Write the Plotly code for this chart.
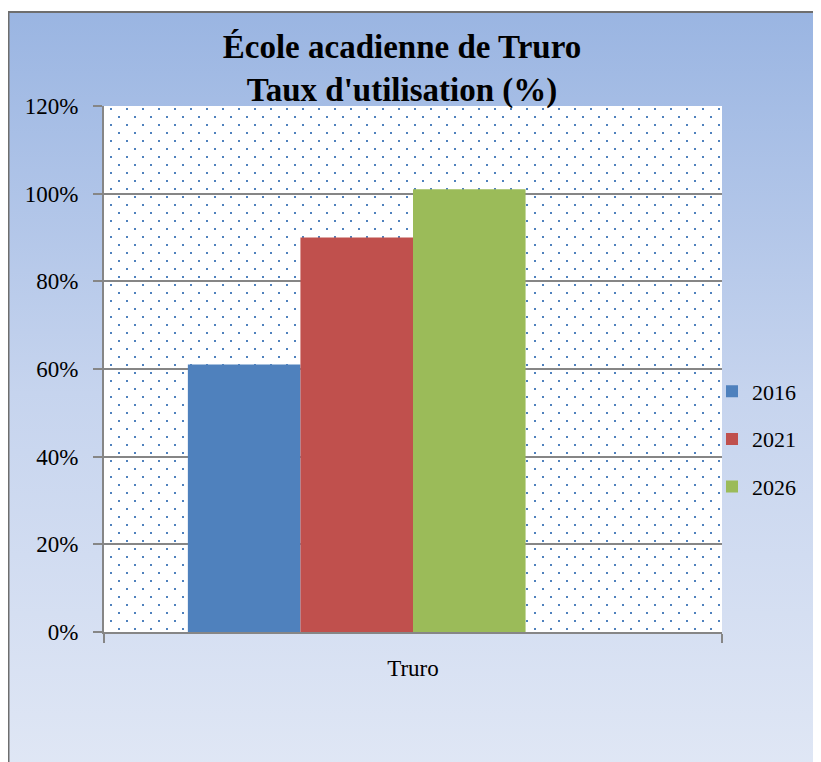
import base64
import plotly.graph_objects as go

# ---- data ----
categories = ["Truro"]
series_names = ["2016", "2021", "2026"]
values_2016 = [0.61]
values_2021 = [0.90]
values_2026 = [1.01]
series_values = [values_2016, values_2021, values_2026]
series_colors = ["#4F81BD", "#C0504D", "#9BBB59"]
y_tick_vals = [0, 0.2, 0.4, 0.6, 0.8, 1.0, 1.2]
y_tick_text = ["0%", "20%", "40%", "60%", "80%", "100%", "120%"]

# ---- layout geometry (pixels, page coords minus body offset) ----
OFF = 8  # page body margin
W, H = 821, 762
L, R, T, B = 104 - OFF, 722 - OFF, 106 - OFF, 632 - OFF
PW, PH = R - L, B - T
FONT = "Liberation Serif"
GRID = "#868686"
FX, FY = 7 - OFF, 12 - OFF  # frame corner


def px_x(px):
    return (px - L) / PW


def px_y(py):
    return (B - py) / PH


def svg_uri(svg):
    return "data:image/svg+xml;base64," + base64.b64encode(svg.encode()).decode()


bg_svg = f"""<svg xmlns='http://www.w3.org/2000/svg' width='{W}' height='{H}' viewBox='0 0 {W} {H}' preserveAspectRatio='none'>
<defs><linearGradient id='g' x1='0' y1='0' x2='0' y2='1'>
<stop offset='0' stop-color='#9AB5E2'/>
<stop offset='0.5' stop-color='#C6D4EE'/>
<stop offset='1' stop-color='#E0E7F5'/>
</linearGradient></defs>
<rect x='0' y='0' width='{W}' height='{H}' fill='#FFFFFF'/>
<rect x='0' y='{FY}' width='{W}' height='{H}' fill='url(#g)'/>
</svg>"""

dots_svg = f"""<svg xmlns='http://www.w3.org/2000/svg' width='{PW}' height='{PH}' viewBox='0 0 {PW} {PH}' preserveAspectRatio='none'>
<defs><pattern id='p' x='0' y='0' width='16' height='16' patternUnits='userSpaceOnUse'>
<rect x='6' y='2' width='2' height='2' fill='#4F81BD'/>
<rect x='14' y='10' width='2' height='2' fill='#4F81BD'/>
</pattern></defs>
<rect x='0' y='0' width='{PW}' height='{PH}' fill='#FFFFFF'/>
<rect x='0' y='0' width='{PW}' height='{PH}' fill='url(#p)'/>
</svg>"""

fig = go.Figure()
for name, vals, col in zip(series_names, series_values, series_colors):
    fig.add_trace(go.Bar(x=categories, y=vals, name=name, marker_color=col,
                         marker_line_width=0, legendgroup=name))
# empty fourth slot of the Excel cluster (keeps the group offset)
fig.add_trace(go.Bar(x=categories, y=[None], showlegend=False, hoverinfo="skip"))

fig.update_layout(
    width=W, height=H,
    margin=dict(l=L, r=W - R, t=T, b=H - B, pad=0),
    paper_bgcolor="rgba(0,0,0,0)",
    plot_bgcolor="rgba(0,0,0,0)",
    barmode="group",
    bargap=0.2714,
    bargroupgap=0,
    font=dict(family=FONT, color="black"),
    title=dict(
        text="<b>École acadienne de Truro<br>Taux d'utilisation (%)</b>",
        font=dict(family=FONT, size=33, color="black"),
        x=(402 - OFF) / W, xanchor="center", xref="container",
        y=1 - (58 - OFF) / H, yanchor="middle",
    ),
    legend=dict(
        x=px_x(712 - OFF), xanchor="left", y=px_y(439 - OFF), yanchor="middle",
        font=dict(family=FONT, size=22, color="black"),
        bgcolor="rgba(0,0,0,0)", tracegroupgap=16, traceorder="grouped",
    ),
    showlegend=True,
    images=[
        dict(source=svg_uri(bg_svg), xref="paper", yref="paper",
             x=px_x(0), y=px_y(0), sizex=W / PW, sizey=H / PH,
             xanchor="left", yanchor="top", sizing="stretch", layer="below"),
        dict(source=svg_uri(dots_svg), xref="paper", yref="paper",
             x=0, y=1, sizex=1, sizey=1,
             xanchor="left", yanchor="top", sizing="stretch", layer="below"),
    ],
    shapes=[
        dict(type="line", xref="paper", yref="paper",
             x0=px_x(0.5), y0=px_y(H + 5), x1=px_x(0.5), y1=px_y(FY),
             line=dict(color="#6E6E6E", width=2)),
        dict(type="line", xref="paper", yref="paper",
             x0=px_x(0), y0=px_y(FY), x1=px_x(W + 5), y1=px_y(FY),
             line=dict(color="#6E6E6E", width=2)),
    ],
)

fig.update_yaxes(
    range=[0, 1.2], tickvals=y_tick_vals, ticktext=y_tick_text,
    showgrid=True, gridcolor=GRID, gridwidth=2,
    showline=True, linecolor=GRID, linewidth=2,
    ticks="outside", ticklen=9, tickwidth=2, tickcolor=GRID,
    ticklabelstandoff=10,
    tickfont=dict(family=FONT, size=23, color="black"),
    zeroline=False, fixedrange=True,
)
fig.update_xaxes(
    range=[-0.5, 0.5], showgrid=False,
    showline=True, linecolor=GRID, linewidth=2,
    ticks="outside", tickson="boundaries", ticklen=9, tickwidth=2, tickcolor=GRID,
    ticklabelstandoff=14,
    tickfont=dict(family=FONT, size=23, color="black"),
    fixedrange=True,
)

fig.write_html("out.html")
